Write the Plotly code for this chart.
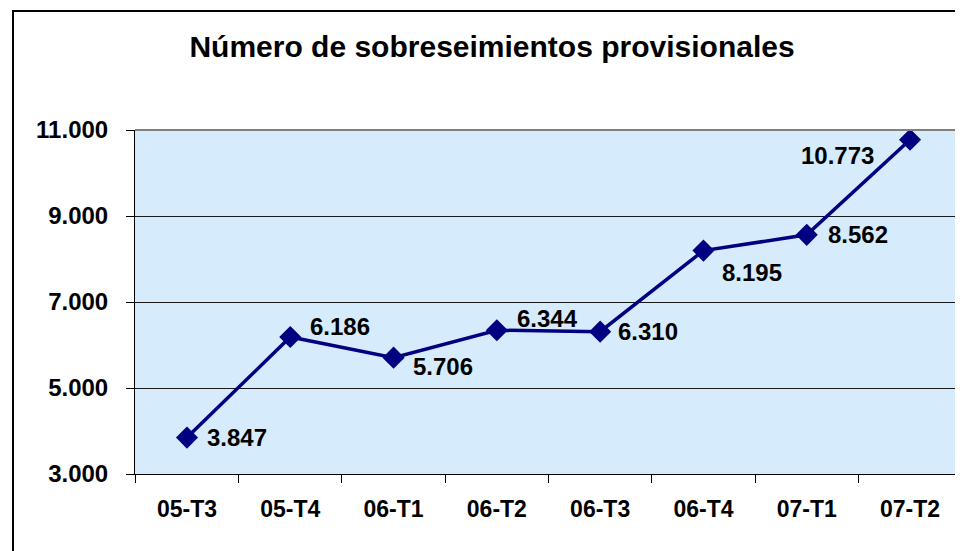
import plotly.graph_objects as go

categories = ["05-T3", "05-T4", "06-T1", "06-T2", "06-T3", "06-T4", "07-T1", "07-T2"]
values = [3847, 6186, 5706, 6344, 6310, 8195, 8562, 10773]
value_labels = ["3.847", "6.186", "5.706", "6.344", "6.310", "8.195", "8.562", "10.773"]
y_ticks = [3000, 5000, 7000, 9000, 11000]
y_tick_labels = ["3.000", "5.000", "7.000", "9.000", "11.000"]

# label offsets (style)
label_shift_x = [18, 18, 17, 18, 16, 17, 19, -34]
label_shift_y = [0, 11, -9, 12, 0, -22, 0, -16]
label_anchor = ["left"] * 7 + ["right"]

NAVY = "#000080"
FONT = "Liberation Sans, Arial, sans-serif"
OFF = 8  # page body margin

W, H = 963 - OFF, 551 - OFF
L, T = 135 - OFF, 130 - OFF
PW, PH = 827, 344

fig = go.Figure()
fig.add_trace(go.Scatter(
    x=categories, y=values, mode="lines+markers",
    line=dict(color=NAVY, width=3.5),
    marker=dict(symbol="diamond", size=17, color=NAVY),
    hoverinfo="skip", showlegend=False,
))

for c, v, t, dx, dy, anc in zip(categories, values, value_labels, label_shift_x, label_shift_y, label_anchor):
    fig.add_annotation(x=c, y=v, text="<b>%s</b>" % t, showarrow=False,
                       xanchor=anc, yanchor="middle", xshift=dx, yshift=dy,
                       font=dict(family=FONT, size=24, color="black"))

fig.update_layout(
    width=W, height=H,
    margin=dict(l=L, r=W - L - PW, t=T, b=H - T - PH),
    paper_bgcolor="white", plot_bgcolor="#D6ECFC",
    title=dict(text="<b>Número de sobreseimientos provisionales</b>",
               font=dict(family=FONT, size=30, color="black"),
               x=(492 - OFF) / W, xanchor="center", y=1 - (46 - OFF) / H, yanchor="middle"),
    font=dict(family=FONT, color="black"),
)
fig.update_xaxes(
    type="category", showgrid=False, tickson="boundaries",
    ticks="outside", ticklen=8, tickcolor="black", tickwidth=1,
    showline=True, linecolor="black", linewidth=1,
    tickfont=dict(family=FONT, size=23, color="black", weight="bold"),
    ticklabelstandoff=14,
)
fig.update_yaxes(
    range=[3000, 11000], tickvals=y_ticks, ticktext=y_tick_labels,
    showgrid=True, gridcolor="#1a1a1a", gridwidth=1,
    ticks="outside", ticklen=8, tickcolor="black", tickwidth=1,
    showline=True, linecolor="black", linewidth=1, zeroline=False,
    tickfont=dict(family=FONT, size=24, color="black", weight="bold"),
    ticklabelstandoff=13,
)
# plot-area border (gray) on top/right
fig.add_shape(type="line", xref="paper", yref="paper", x0=0, x1=1, y0=1, y1=1,
              line=dict(color="#808080", width=2))
fig.add_shape(type="line", xref="paper", yref="paper", x0=1, x1=1, y0=0, y1=1,
              line=dict(color="#808080", width=2))
# outer chart border
fig.add_shape(type="rect", xref="paper", yref="paper",
              x0=(13 - 135) / PW, x1=1.2, y0=-0.5, y1=1 + (130 - 11) / PH,
              line=dict(color="black", width=2), layer="below")

fig.write_html("out.html")
